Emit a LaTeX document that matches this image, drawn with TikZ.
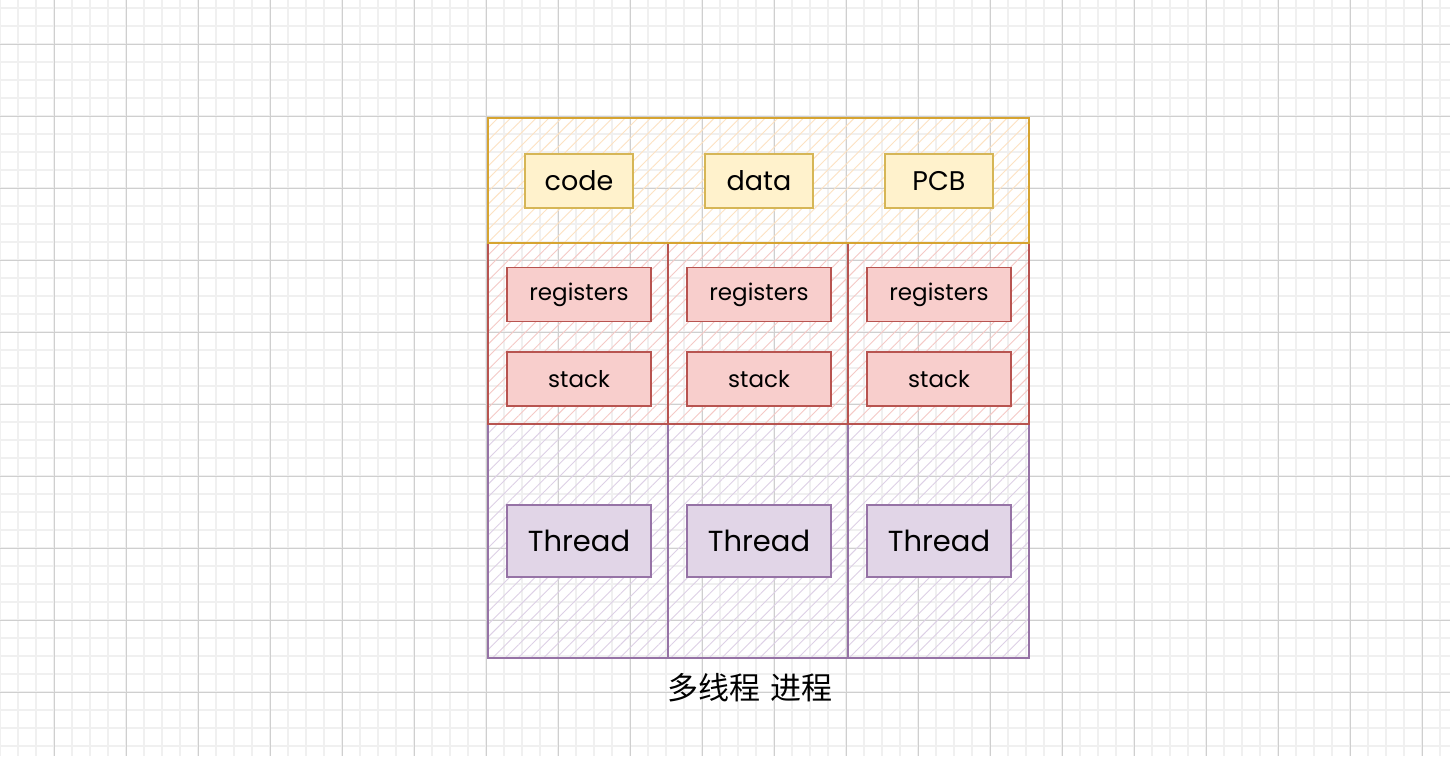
\documentclass[tikz,border=0pt]{standalone}
\usepackage{fontspec}
\setmainfont{Poppins}
\newfontfamily\cjk{Noto Sans CJK SC}
\usetikzlibrary{patterns.meta}

\definecolor{gridminor}{HTML}{F0F0F0}
\definecolor{gridmajor}{HTML}{CFCFCF}
\definecolor{yelline}{HTML}{D6A431}
\definecolor{yelhatch}{HTML}{FDE2C2}
\definecolor{yelfill}{HTML}{FFF2CC}
\definecolor{yeldraw}{HTML}{D6B656}
\definecolor{redline}{HTML}{B85450}
\definecolor{redhatch}{HTML}{F5C9C6}
\definecolor{redfill}{HTML}{F8CECC}
\definecolor{purline}{HTML}{9673A6}
\definecolor{purhatch}{HTML}{DDD0E6}
\definecolor{purfill}{HTML}{E1D5E7}

\begin{document}
\begin{tikzpicture}[
  x=1pt, y=-1pt,
  hatched/.style={pattern={Lines[angle=45,distance=9pt,line width=0.9pt]}},
  shared/.style={hatched, pattern color=yelhatch, draw=yelline, line width=2pt},
  thrcell/.style={hatched, pattern color=redhatch, draw=redline, line width=2pt},
  runcell/.style={hatched, pattern color=purhatch, draw=purline, line width=2pt},
  box/.style={rectangle, line width=1.5pt, inner sep=0pt,
    minimum width=144pt},
  segbox/.style={box, draw=yeldraw, fill=yelfill, minimum width=108pt,
    minimum height=54pt, font=\fontsize{27}{31}\selectfont},
  regbox/.style={box, draw=redline, fill=redfill, minimum height=54pt,
    font=\fontsize{23}{27}\selectfont},
  thrbox/.style={box, draw=purline, fill=purfill, minimum height=72pt,
    font=\fontsize{29}{33}\selectfont}
]
  \useasboundingbox (0,0) rectangle (1450,756);
  \fill[white] (0,0) rectangle (1450,756);

  % background grid
  \foreach \x in {0,18,...,1450}
    \draw[gridminor, line width=1.2pt] (\x,0) -- (\x,756);
  \foreach \y in {8,26,...,756}
    \draw[gridminor, line width=1.2pt] (0,\y) -- (1450,\y);
  \foreach \x in {54,126,...,1450}
    \draw[gridmajor, line width=0.8pt] (\x,0) -- (\x,756);
  \foreach \y in {44,116,...,756}
    \draw[gridmajor, line width=0.8pt] (0,\y) -- (1450,\y);

  % process regions
  \foreach \a/\b in {488/668,668/848,848/1029} {
    \draw[runcell] (\a,424) rectangle (\b,658);
    \draw[thrcell] (\a,243) rectangle (\b,424);
  }
  \draw[shared] (488,118) rectangle (1029,243);

  % shared part
  \node[segbox] (code) at (579,181) {code};
  \node[segbox] (data) at (759,181) {data};
  \node[segbox] (pcb)  at (939,181) {PCB};

  % per thread
  \node[regbox] (reg1) at (579,294.5) {registers};
  \node[regbox] (reg2) at (759,294.5) {registers};
  \node[regbox] (reg3) at (939,294.5) {registers};

  \node[regbox] (stk1) at (579,379) {stack};
  \node[regbox] (stk2) at (759,379) {stack};
  \node[regbox] (stk3) at (939,379) {stack};

  \node[thrbox] (thr1) at (579,541) {Thread};
  \node[thrbox] (thr2) at (759,541) {Thread};
  \node[thrbox] (thr3) at (939,541) {Thread};

  \node[font=\cjk\fontsize{31}{35}\selectfont] (title) at (750,688)
    {多线程\hspace{10pt}进程};
\end{tikzpicture}
\end{document}
